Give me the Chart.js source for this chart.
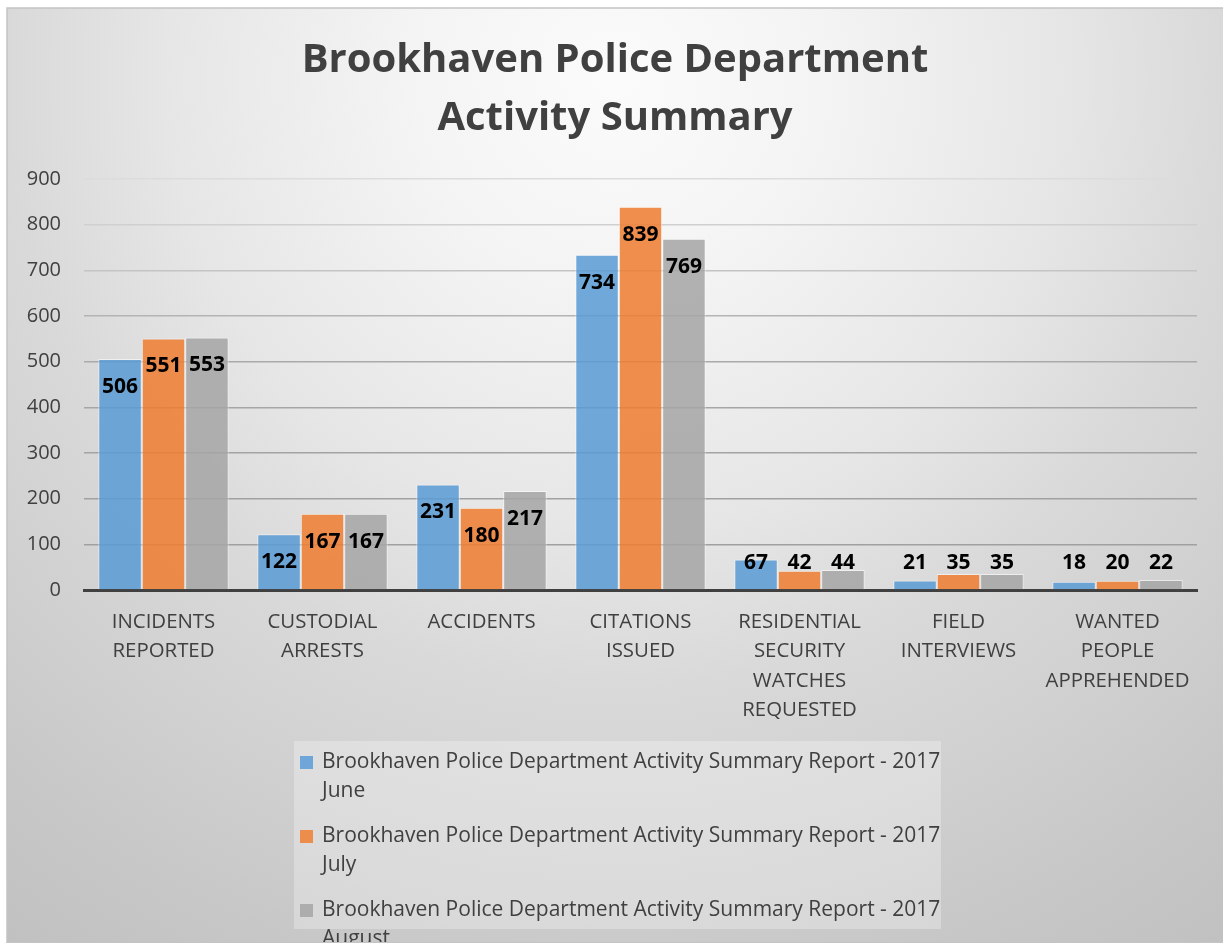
<!DOCTYPE html>
<html>
<head>
<meta charset="utf-8">
<script src="https://cdn.jsdelivr.net/npm/chart.js@4.4.1/dist/chart.umd.min.js"></script>
<style>
  html, body { margin: 0; padding: 0; background: #ffffff; }
  canvas { display: block; }
</style>
</head>
<body>
<canvas id="c" width="1223" height="946"></canvas>
<script>
// ---- data ----
const titleLines = ["Brookhaven Police Department", "Activity Summary"];
const categories = [
  ["INCIDENTS", "REPORTED"],
  ["CUSTODIAL", "ARRESTS"],
  ["ACCIDENTS"],
  ["CITATIONS", "ISSUED"],
  ["RESIDENTIAL", "SECURITY", "WATCHES", "REQUESTED"],
  ["FIELD", "INTERVIEWS"],
  ["WANTED", "PEOPLE", "APPREHENDED"]
];
const seriesNames = [
  "Brookhaven Police Department Activity Summary Report - 2017 June",
  "Brookhaven Police Department Activity Summary Report - 2017 July",
  "Brookhaven Police Department Activity Summary Report - 2017 August"
];
const juneValues   = [506, 122, 231, 734, 67, 21, 18];
const julyValues   = [551, 167, 180, 839, 42, 35, 20];
const augustValues = [553, 167, 217, 769, 44, 35, 22];
const yTicks = [0, 100, 200, 300, 400, 500, 600, 700, 800, 900];

const FONT = "'Open Sans', Lato, sans-serif";
const TEXT = "#404040";
const seriesColors = ["rgba(91,155,213,0.86)", "rgba(237,125,49,0.86)", "rgba(165,165,165,0.86)"];
const legendSwatch = ["#6fa5d8", "#ec8d4c", "#adadad"];

// ---- background / frame ----
const bgPlugin = {
  id: "bg",
  beforeDraw(chart) {
    const ctx = chart.ctx, W = chart.width, H = chart.height;
    ctx.save();
    ctx.fillStyle = "#ffffff";
    ctx.fillRect(0, 0, W, H);
    const fx = 7, fy = 8;
    const g = ctx.createRadialGradient(615, 80, 0, 615, 80, 1070);
    g.addColorStop(0.00, "#fbfbfb");
    g.addColorStop(0.19, "#f4f4f4");
    g.addColorStop(0.42, "#e6e6e6");
    g.addColorStop(0.57, "#d9d9d9");
    g.addColorStop(0.72, "#d0d0d0");
    g.addColorStop(0.86, "#c7c7c7");
    g.addColorStop(1.00, "#c0c0c0");
    ctx.fillStyle = g;
    ctx.fillRect(fx, fy, W - fx, H - fy - 3);
    ctx.strokeStyle = "#c4c4c4";
    ctx.lineWidth = 1.5;
    ctx.beginPath();
    ctx.moveTo(fx, H - 3);
    ctx.lineTo(fx, fy);
    ctx.lineTo(W, fy);
    ctx.stroke();
    ctx.restore();
  }
};

// ---- data labels ----
const labelPlugin = {
  id: "vlabels",
  afterDatasetsDraw(chart) {
    const ctx = chart.ctx;
    ctx.save();
    ctx.font = "bold 21px " + FONT;
    ctx.fillStyle = "#000000";
    ctx.textAlign = "center";
    ctx.textBaseline = "middle";
    chart.data.datasets.forEach((ds, i) => {
      const meta = chart.getDatasetMeta(i);
      meta.data.forEach((bar, j) => {
        const y = Math.min(bar.y + 28, bar.base - 26);
        ctx.fillText(String(ds.data[j]), bar.x, y);
      });
    });
    ctx.restore();
  }
};

// ---- legend (boxed, wrapped) ----
const legendPlugin = {
  id: "boxLegend",
  afterDraw(chart) {
    const ctx = chart.ctx;
    const bx = 294, by = 741, bw = 647, bh = 188;
    ctx.save();
    ctx.fillStyle = "rgba(255,255,255,0.28)";
    ctx.fillRect(bx, by, bw, bh);
    ctx.font = "21px " + FONT;
    ctx.textAlign = "left";
    ctx.textBaseline = "middle";
    const tx = 322, maxW = 645;
    chart.data.datasets.forEach((ds, i) => {
      const y0 = 762 + i * 74;
      const words = ds.label.split(" ");
      const lines = [];
      let cur = "";
      words.forEach(w => {
        const t = cur ? cur + " " + w : w;
        if (ctx.measureText(t).width > maxW && cur) { lines.push(cur); cur = w; }
        else cur = t;
      });
      if (cur) lines.push(cur);
      ctx.fillStyle = legendSwatch[i];
      ctx.fillRect(300, y0 - 6, 13, 13);
      ctx.fillStyle = TEXT;
      lines.forEach((ln, k) => ctx.fillText(ln, tx, y0 + k * 29));
    });
    ctx.fillStyle = "#ffffff";
    ctx.fillRect(0, chart.height - 3, chart.width, 3);
    ctx.strokeStyle = "#c4c4c4";
    ctx.lineWidth = 1;
    ctx.beginPath();
    ctx.moveTo(7, chart.height - 3.5);
    ctx.lineTo(chart.width, chart.height - 3.5);
    ctx.stroke();
    ctx.restore();
  }
};

function gridColor(v) {
  const stops = {100: 160, 200: 161, 300: 163, 400: 166, 500: 170, 600: 180, 700: 196, 800: 208, 900: 220};
  const c = stops[v] || 160;
  return "rgb(" + c + "," + c + "," + c + ")";
}

const chart = new Chart(document.getElementById("c"), {
  type: "bar",
  data: {
    labels: categories,
    datasets: [
      { label: seriesNames[0], data: juneValues,   backgroundColor: seriesColors[0] },
      { label: seriesNames[1], data: julyValues,   backgroundColor: seriesColors[1] },
      { label: seriesNames[2], data: augustValues, backgroundColor: seriesColors[2] }
    ].map(d => Object.assign(d, {
      borderColor: "rgba(255,255,255,0.55)",
      borderWidth: 1,
      categoryPercentage: 0.82,
      barPercentage: 1.0
    }))
  },
  options: {
    responsive: false,
    animation: false,
    devicePixelRatio: 1,
    layout: { padding: { top: 8, left: 7, right: 0, bottom: 216 } },
    plugins: {
      legend: { display: false },
      tooltip: { enabled: false },
      title: {
        display: true,
        text: titleLines,
        color: TEXT,
        font: { family: FONT, size: 40, weight: "bold", lineHeight: "58px" },
        padding: { top: 24, bottom: 31 }
      }
    },
    scales: {
      x: {
        grid: { display: false, drawTicks: false },
        border: { display: true, color: "#404040", width: 3 },
        ticks: {
          color: TEXT,
          font: { family: FONT, size: 20.4, lineHeight: "29.5px" },
          padding: 17,
          maxRotation: 0,
          autoSkip: false
        },
        afterFit(scale) { scale.height = 140; }
      },
      y: {
        min: 0,
        max: 900,
        afterBuildTicks(scale) { scale.ticks = yTicks.map(v => ({ value: v })); },
        grid: {
          drawTicks: false,
          color: ctx => gridColor(ctx.tick.value),
          lineWidth: 1.5
        },
        border: { display: false },
        ticks: {
          color: TEXT,
          font: { family: FONT, size: 20 },
          padding: 23
        },
        afterFit(scale) { scale.width = 77; }
      },
      yRight: {
        position: "right",
        display: true,
        min: 0,
        max: 900,
        grid: { display: false, drawTicks: false },
        border: { display: false },
        ticks: { display: false },
        afterFit(scale) { scale.width = 26; }
      }
    }
  },
  plugins: [bgPlugin, labelPlugin, legendPlugin]
});
</script>
</body>
</html>
